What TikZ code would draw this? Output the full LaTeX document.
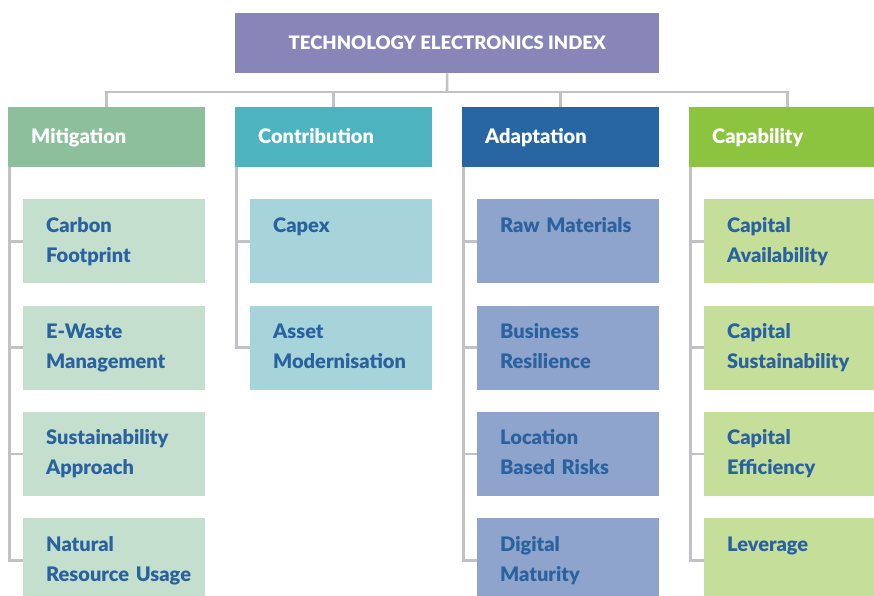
\documentclass[tikz,border=0pt]{standalone}
\usepackage{fontspec}
\setmainfont{Lato}[BoldFont={Lato Black}]
\definecolor{indexpurple}{HTML}{8886B8}
\definecolor{mitgreen}{HTML}{8DBF9D}
\definecolor{mitlight}{HTML}{C4DFCD}
\definecolor{conteal}{HTML}{4DB3BF}
\definecolor{conlight}{HTML}{A6D4DA}
\definecolor{adablue}{HTML}{2766A3}
\definecolor{adalight}{HTML}{8EA4CC}
\definecolor{capgreen}{HTML}{8CC43F}
\definecolor{caplight}{HTML}{C5DF9B}
\definecolor{itemtext}{HTML}{2A62A0}
\definecolor{linegray}{HTML}{C2C2C6}

\begin{document}
\begin{tikzpicture}[x=1pt, y=-1pt]
    \tikzstyle{every node}=[anchor=north west, inner ysep=0pt, font=\bfseries\fontsize{20}{30}\selectfont]
    \tikzstyle{head}=[text=white, fill=indexpurple, minimum width=424pt, minimum height=60pt, inner xsep=0pt, font=\bfseries\fontsize{18.5}{24}\selectfont]
    \tikzstyle{pillar}=[text=white, text width=151pt, inner xsep=23pt, minimum height=60pt, align=left, execute at begin node=\strut]
    \tikzstyle{item}=[text=itemtext, text width=136pt, inner xsep=23pt, minimum height=84pt, align=left, execute at begin node=\strut, execute at end node=\strut]
    \tikzstyle{link}=[draw=linegray, line width=2.6pt]

    \clip (0,0) rectangle (874,596);

% index on top, four pillars below it
    \node [head] (index) at (235,13) {TECHNOLOGY ELECTRONICS INDEX};
    \node [pillar, fill=mitgreen] (mit) at (8,107) {Mitigation};
    \node [pillar, fill=conteal] (con) at (235,107) {Contribution};
    \node [pillar, fill=adablue] (ada) at (462,107) {Adaptation};
    \node [pillar, fill=capgreen] (cap) at (689,107) {Capability};

% indicators of each pillar
    \node [item, fill=mitlight] (m1) at (23,199) {Carbon\\Footprint};
    \node [item, fill=mitlight] (m2) at (23,305.3) {E-Waste\\Management};
    \node [item, fill=mitlight] (m3) at (23,411.7) {Sustainability\\Approach};
    \node [item, fill=mitlight] (m4) at (23,518) {Natural\\\mbox{Resource Usage}};

    \node [item, fill=conlight] (c1) at (250,199) {Capex\\};
    \node [item, fill=conlight] (c2) at (250,305.3) {Asset\\\mbox{Modernisation}};

    \node [item, fill=adalight] (a1) at (477,199) {\mbox{Raw Materials}\\};
    \node [item, fill=adalight] (a2) at (477,305.3) {Business\\Resilience};
    \node [item, fill=adalight] (a3) at (477,411.7) {Location\\\mbox{Based Risks}};
    \node [item, fill=adalight] (a4) at (477,518) {Digital\\Maturity};

    \node [item, fill=caplight] (k1) at (704,199) {Capital\\\mbox{Availability}};
    \node [item, fill=caplight] (k2) at (704,305.3) {Capital\\\mbox{Sustainability}};
    \node [item, fill=caplight] (k3) at (704,411.7) {Capital\\Efficiency};
    \node [item, fill=caplight] (k4) at (704,518) {Leverage\\};

% connectors
    \coordinate (bus) at (447,92);
    \draw [link] (index.south) -- (bus);
    \draw [link] (mit.north) |- (bus) -| (cap.north);
    \foreach \p in {con,ada}
        \draw [link] (\p.north |- bus) -- (\p.north);
    \foreach \p/\c in {mit/m1, mit/m2, mit/m3, mit/m4, con/c1, con/c2, ada/a1, ada/a2, ada/a3, ada/a4, cap/k1, cap/k2, cap/k3, cap/k4}
        \draw [link] ([xshift=1.5pt]\p.south west) |- (\c.west);

\end{tikzpicture}
\end{document}
